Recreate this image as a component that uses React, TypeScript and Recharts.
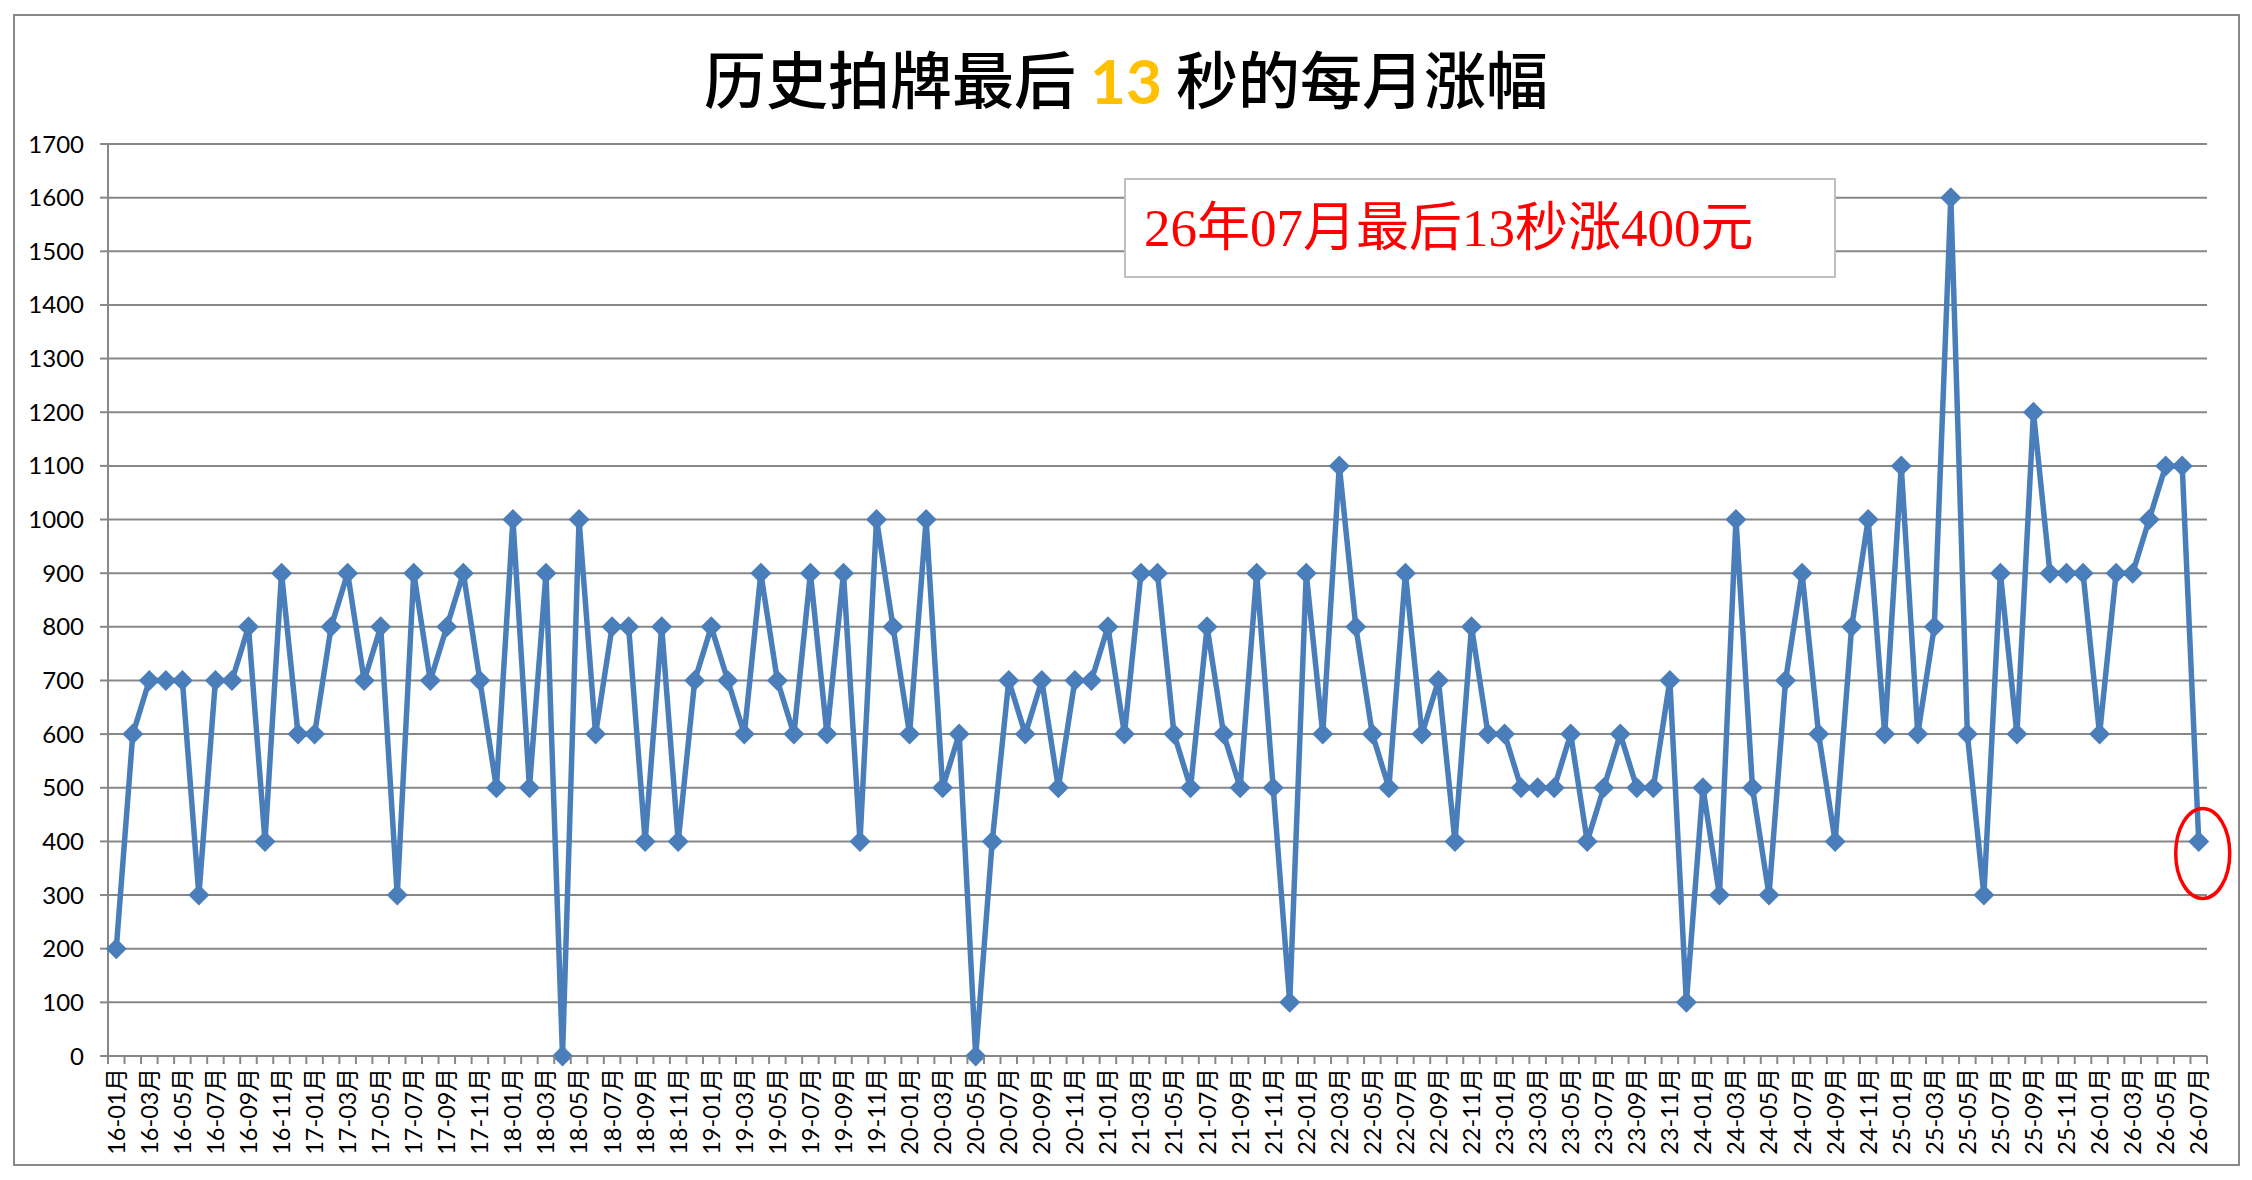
import React from 'react';
import { LineChart, Line, XAxis, YAxis, CartesianGrid, ReferenceDot } from 'recharts';

// month labels, one row per year
const months = [
  '16-01月', '16-02月', '16-03月', '16-04月', '16-05月', '16-06月', '16-07月', '16-08月', '16-09月', '16-10月', '16-11月', '16-12月',
  '17-01月', '17-02月', '17-03月', '17-04月', '17-05月', '17-06月', '17-07月', '17-08月', '17-09月', '17-10月', '17-11月', '17-12月',
  '18-01月', '18-02月', '18-03月', '18-04月', '18-05月', '18-06月', '18-07月', '18-08月', '18-09月', '18-10月', '18-11月', '18-12月',
  '19-01月', '19-02月', '19-03月', '19-04月', '19-05月', '19-06月', '19-07月', '19-08月', '19-09月', '19-10月', '19-11月', '19-12月',
  '20-01月', '20-02月', '20-03月', '20-04月', '20-05月', '20-06月', '20-07月', '20-08月', '20-09月', '20-10月', '20-11月', '20-12月',
  '21-01月', '21-02月', '21-03月', '21-04月', '21-05月', '21-06月', '21-07月', '21-08月', '21-09月', '21-10月', '21-11月', '21-12月',
  '22-01月', '22-02月', '22-03月', '22-04月', '22-05月', '22-06月', '22-07月', '22-08月', '22-09月', '22-10月', '22-11月', '22-12月',
  '23-01月', '23-02月', '23-03月', '23-04月', '23-05月', '23-06月', '23-07月', '23-08月', '23-09月', '23-10月', '23-11月', '23-12月',
  '24-01月', '24-02月', '24-03月', '24-04月', '24-05月', '24-06月', '24-07月', '24-08月', '24-09月', '24-10月', '24-11月', '24-12月',
  '25-01月', '25-02月', '25-03月', '25-04月', '25-05月', '25-06月', '25-07月', '25-08月', '25-09月', '25-10月', '25-11月', '25-12月',
  '26-01月', '26-02月', '26-03月', '26-04月', '26-05月', '26-06月', '26-07月',
];

// 最后13秒涨幅, per month
const rises = [
  200, 600, 700, 700, 700, 300, 700, 700, 800, 400, 900, 600,
  600, 800, 900, 700, 800, 300, 900, 700, 800, 900, 700, 500,
  1000, 500, 900, 0, 1000, 600, 800, 800, 400, 800, 400, 700,
  800, 700, 600, 900, 700, 600, 900, 600, 900, 400, 1000, 800,
  600, 1000, 500, 600, 0, 400, 700, 600, 700, 500, 700, 700,
  800, 600, 900, 900, 600, 500, 800, 600, 500, 900, 500, 100,
  900, 600, 1100, 800, 600, 500, 900, 600, 700, 400, 800, 600,
  600, 500, 500, 500, 600, 400, 500, 600, 500, 500, 700, 100,
  500, 300, 1000, 500, 300, 700, 900, 600, 400, 800, 1000, 600,
  1100, 600, 800, 1600, 600, 300, 900, 600, 1200, 900, 900, 900,
  600, 900, 900, 1000, 1100, 1100, 400,
];

const yTicks = [0, 100, 200, 300, 400, 500, 600, 700, 800, 900, 1000, 1100, 1200, 1300, 1400, 1500, 1600, 1700];

const latestMonth = '26-07月';
const latestRise = 400;

const data = months.map((m, i) => ({ month: m, rise: rises[i] }));

const W = 2252;
const H = 1180;
const PLOT_W = 2099;
const BAND = PLOT_W / months.length;
const GRID = '#878787';
const BLUE = '#4A7EBB';

const MonthTick = (props: any) => {
  const { x, y, index, payload } = props;
  const half = BAND / 2;
  const ty = y + 12;
  return (
    <g>
      <line x1={x - half} x2={x - half} y1={y} y2={y + 8} stroke={GRID} strokeWidth={2} />
      {index === months.length - 1 && (
        <line x1={x + half} x2={x + half} y1={y} y2={y + 8} stroke={GRID} strokeWidth={2} />
      )}
      {index % 2 === 0 && (
        <text
          x={x}
          y={ty}
          dy="0.36em"
          textAnchor="end"
          transform={`rotate(-90, ${x}, ${ty})`}
          fontSize={23.5}
          fontFamily="Lato, 'Noto Sans CJK SC', sans-serif"
          fill="#000"
        >
          {payload.value}
        </text>
      )}
    </g>
  );
};

const Diamond = (props: any) => {
  const { cx, cy, index } = props;
  const r = 10.5;
  return (
    <polygon
      key={`d-${index}`}
      points={`${cx},${cy - r} ${cx + r},${cy} ${cx},${cy + r} ${cx - r},${cy}`}
      fill={BLUE}
    />
  );
};

const RedRing = (props: any) => (
  <ellipse cx={props.cx + 4} cy={props.cy + 12} rx={27} ry={45} fill="none" stroke="#FF0000" strokeWidth={3.5} />
);

export default function App() {
  return (
    <div style={{ position: 'relative', width: W, height: H, background: '#fff' }}>
      <style>{'body{margin:0}'}</style>
      <LineChart width={W} height={H} data={data} margin={{ top: 144, right: 45, left: 8, bottom: 0 }}>
        <CartesianGrid vertical={false} stroke={GRID} strokeWidth={2} />
        <XAxis
          dataKey="month"
          interval={0}
          height={124}
          padding={{ left: BAND / 2, right: BAND / 2 }}
          axisLine={{ stroke: GRID, strokeWidth: 2 }}
          tickLine={false}
          tickSize={0}
          tickMargin={0}
          tick={<MonthTick />}
        />
        <YAxis
          width={100}
          domain={[0, 1700]}
          ticks={yTicks}
          interval={0}
          axisLine={{ stroke: GRID, strokeWidth: 2 }}
          tickLine={{ stroke: GRID, strokeWidth: 2 }}
          tickSize={8}
          tickMargin={16}
          tick={{ fontSize: 24, fill: '#000', fontFamily: 'Lato, sans-serif' }}
        />
        <Line
          type="linear"
          dataKey="rise"
          stroke={BLUE}
          strokeWidth={5.5}
          strokeLinejoin="round"
          dot={Diamond}
          activeDot={false}
          isAnimationActive={false}
        />
        <ReferenceDot x={latestMonth} y={latestRise} shape={RedRing} ifOverflow="visible" />
      </LineChart>

      {/* outer frame */}
      <div
        style={{
          position: 'absolute',
          left: 13,
          top: 14,
          width: 2227,
          height: 1152,
          border: '2px solid #888',
          boxSizing: 'border-box',
          pointerEvents: 'none',
        }}
      />

      {/* title */}
      <div
        style={{
          position: 'absolute',
          left: 0,
          top: 46,
          width: W,
          textAlign: 'center',
          fontSize: 62,
          lineHeight: '62px',
          fontFamily: "'Noto Sans CJK SC', sans-serif",
          fontWeight: 500,
          color: '#000',
          whiteSpace: 'pre',
        }}
      >
        历史拍牌最后 <span style={{ color: '#FFC000', fontWeight: 700, fontFamily: 'Lato, sans-serif' }}>13</span> 秒的每月涨幅
      </div>

      {/* annotation box */}
      <div
        style={{
          position: 'absolute',
          left: 1124,
          top: 178,
          width: 712,
          height: 100,
          boxSizing: 'border-box',
          border: '2px solid #BFBFBF',
          background: '#fff',
          display: 'flex',
          alignItems: 'center',
          paddingLeft: 18,
          paddingBottom: 10,
          fontSize: 53,
          color: '#FF0000',
          fontFamily: "'Liberation Serif', 'Noto Sans CJK SC', serif",
          whiteSpace: 'nowrap',
        }}
      >
        26年07月最后13秒涨400元
      </div>
    </div>
  );
}
